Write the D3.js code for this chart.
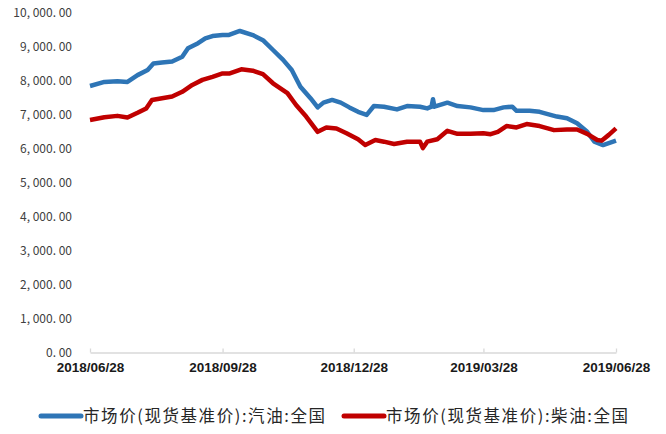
<!DOCTYPE html>
<html>
<head>
<meta charset="utf-8">
<script src="https://cdn.jsdelivr.net/npm/d3@7"></script>
<style>
  body { margin: 0; background: #fff; }
  svg { display: block; }
</style>
</head>
<body>
<div id="chart"></div>
<script>
// series: 市场价(现货基准价):汽油:全国
const gasDates = [
  "2018-06-28", "2018-07-08", "2018-07-17", "2018-07-24", "2018-07-31",
  "2018-08-07", "2018-08-11", "2018-08-17", "2018-08-24", "2018-08-31",
  "2018-09-04", "2018-09-11", "2018-09-16", "2018-09-21", "2018-09-28",
  "2018-10-02", "2018-10-10", "2018-10-19", "2018-10-26", "2018-11-02",
  "2018-11-09", "2018-11-15", "2018-11-21", "2018-11-28", "2018-12-03",
  "2018-12-07", "2018-12-13", "2018-12-19", "2018-12-25", "2018-12-31",
  "2019-01-06", "2019-01-11", "2019-01-18", "2019-01-27", "2019-02-03",
  "2019-02-12", "2019-02-17", "2019-02-20", "2019-02-21", "2019-02-22",
  "2019-03-03", "2019-03-10", "2019-03-19", "2019-03-28", "2019-04-04",
  "2019-04-11", "2019-04-17", "2019-04-20", "2019-04-29", "2019-05-06",
  "2019-05-11", "2019-05-18", "2019-05-25", "2019-06-01", "2019-06-08",
  "2019-06-13", "2019-06-19", "2019-06-24", "2019-06-28"
];
const gasValues = [
  7850, 7970, 7990, 7970, 8170,
  8320, 8510, 8540, 8570, 8710,
  8960, 9110, 9250, 9320, 9350,
  9350, 9470, 9350, 9200, 8910,
  8620, 8320, 7830, 7490, 7220,
  7360, 7440, 7360, 7220, 7090,
  7000, 7260, 7240, 7160, 7260,
  7240, 7190, 7240, 7460, 7240,
  7360, 7260, 7220, 7140, 7140,
  7220, 7240, 7120, 7120, 7090,
  7030, 6950, 6900, 6750, 6500,
  6210, 6110, 6180, 6240
];

// series: 市场价(现货基准价):柴油:全国
const dieselDates = [
  "2018-06-28", "2018-07-08", "2018-07-17", "2018-07-24", "2018-07-31",
  "2018-08-06", "2018-08-10", "2018-08-17", "2018-08-24", "2018-08-31",
  "2018-09-07", "2018-09-14", "2018-09-21", "2018-09-28", "2018-10-03",
  "2018-10-11", "2018-10-19", "2018-10-26", "2018-11-02", "2018-11-12",
  "2018-11-18", "2018-11-25", "2018-12-03", "2018-12-09", "2018-12-16",
  "2018-12-23", "2018-12-31", "2019-01-05", "2019-01-12", "2019-01-18",
  "2019-01-25", "2019-02-03", "2019-02-12", "2019-02-14", "2019-02-17",
  "2019-02-24", "2019-03-03", "2019-03-10", "2019-03-19", "2019-03-28",
  "2019-04-02", "2019-04-07", "2019-04-13", "2019-04-20", "2019-04-27",
  "2019-05-06", "2019-05-16", "2019-05-25", "2019-06-01", "2019-06-08",
  "2019-06-15", "2019-06-18", "2019-06-23", "2019-06-28"
];
const dieselValues = [
  6850, 6930, 6970, 6920, 7060,
  7190, 7440, 7490, 7540, 7680,
  7880, 8030, 8120, 8220, 8220,
  8340, 8300, 8200, 7930, 7640,
  7290, 6950, 6500, 6630, 6600,
  6460, 6280, 6110, 6260, 6210,
  6140, 6210, 6210, 6020, 6210,
  6280, 6530, 6440, 6440, 6460,
  6430, 6500, 6670, 6630, 6730,
  6670, 6550, 6570, 6570, 6440,
  6260, 6240, 6410, 6600
];

const xTickLabels = ["2018/06/28", "2018/09/28", "2018/12/28", "2019/03/28", "2019/06/28"];
const yTickValues = [0, 1000, 2000, 3000, 4000, 5000, 6000, 7000, 8000, 9000, 10000];
const seriesNames = ["市场价(现货基准价):汽油:全国", "市场价(现货基准价):柴油:全国"];
const seriesColors = ["#2E75B6", "#C00000"];

const width = 666;
const height = 434;
const margin = { top: 13, right: 50, bottom: 81.5, left: 90 };

const parseDate = d3.timeParse("%Y-%m-%d");
const parseTick = d3.timeParse("%Y/%m/%d");

const series = [
  gasDates.map((d, i) => ({ date: parseDate(d), value: gasValues[i] })),
  dieselDates.map((d, i) => ({ date: parseDate(d), value: dieselValues[i] }))
];

const x = d3
  .scaleTime()
  .domain([parseTick(xTickLabels[0]), parseTick(xTickLabels[xTickLabels.length - 1])])
  .range([margin.left, width - margin.right]);

const y = d3
  .scaleLinear()
  .domain([0, 10000])
  .range([height - margin.bottom, margin.top]);

const svg = d3
  .select("#chart")
  .append("svg")
  .attr("width", width)
  .attr("height", height)
  .attr("viewBox", [0, 0, width, height]);

// y axis labels only, no line
const fmt = d3.format(",.2f");
svg
  .append("g")
  .attr("transform", `translate(${margin.left},0)`)
  .call(
    d3.axisLeft(y)
      .tickValues(yTickValues)
      .tickSize(0)
      .tickPadding(18)
      .tickFormat((d) => fmt(d).replace(/,/g, ", ").replace(".", ". "))
  )
  .call((g) => g.select(".domain").remove())
  .call((g) =>
    g.selectAll("text")
      .attr("fill", "#404040")
      .style("font-family", "'Noto Sans CJK SC', 'Noto Sans', sans-serif")
      .style("font-size", "12px")
  );

// x axis with small upward ticks
svg
  .append("g")
  .attr("transform", `translate(0,${height - margin.bottom})`)
  .call(
    d3.axisBottom(x)
      .tickValues(xTickLabels.map(parseTick))
      .tickSizeInner(-4)
      .tickSizeOuter(0)
      .tickPadding(10)
      .tickFormat(d3.timeFormat("%Y/%m/%d"))
  )
  .call((g) => g.select(".domain").attr("stroke", "#D9D9D9").attr("stroke-width", 1.3))
  .call((g) => g.selectAll(".tick line").attr("stroke", "#D9D9D9").attr("stroke-width", 1.3))
  .call((g) =>
    g.selectAll("text")
      .attr("fill", "#1a1a1a")
      .style("font-family", "'Liberation Sans', Arial, sans-serif")
      .style("font-size", "13.5px")
      .style("font-weight", "bold")
  );

// lines
const line = d3
  .line()
  .x((d) => x(d.date))
  .y((d) => y(d.value));

svg
  .append("g")
  .selectAll("path")
  .data(series)
  .join("path")
  .attr("fill", "none")
  .attr("stroke", (d, i) => seriesColors[i])
  .attr("stroke-width", 4.5)
  .attr("stroke-linejoin", "round")
  .attr("d", line);

// legend
const legendX = [40, 343];
const legend = svg
  .append("g")
  .selectAll("g")
  .data(seriesNames)
  .join("g")
  .attr("transform", (d, i) => `translate(${legendX[i]},416)`);

legend
  .append("line")
  .attr("x1", 1)
  .attr("x2", 41)
  .attr("stroke", (d, i) => seriesColors[i])
  .attr("stroke-width", 5)
  .attr("stroke-linecap", "round");

legend
  .append("text")
  .attr("x", 43)
  .attr("dy", "0.35em")
  .attr("fill", "#262626")
  .attr("textLength", 242)
  .attr("lengthAdjust", "spacing")
  .style("font-family", "'Noto Sans CJK SC', sans-serif")
  .style("font-size", "16.5px")
  .text((d) => d);
</script>
</body>
</html>
